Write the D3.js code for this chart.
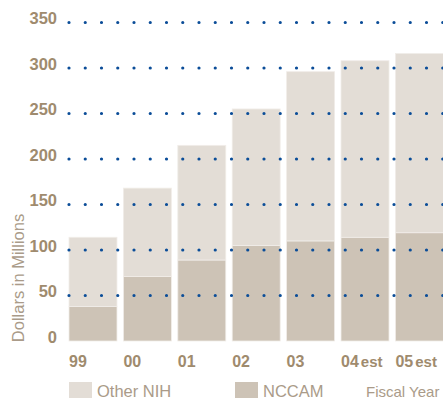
<!DOCTYPE html>
<html><head><meta charset="utf-8">
<script src="https://cdn.jsdelivr.net/npm/d3@7/dist/d3.min.js"></script>
<style>html,body{margin:0;padding:0;background:#fff;overflow:hidden}</style>
</head><body>
<svg id="c" width="443" height="403"></svg>
<script>
const years = ["99", "00", "01", "02", "03", "04", "05"];
const yearSuffix = ["", "", "", "", "", "est", "est"];
const nccam = [38, 71, 89, 105, 110, 114, 119];
const otherNih = [76, 97, 126, 150, 186, 194, 197];
const yTicks = [0, 50, 100, 150, 200, 250, 300, 350];
const gridTicks = [50, 100, 150, 200, 250, 300, 350];

const svg = d3.select("#c");
const x = d3.scaleBand().domain(years).range([69, 443.4]).paddingInner(0.118).paddingOuter(0);
const y = d3.scaleLinear().domain([0, 350]).range([341, 22.5]);

const rows = years.map((yr, i) => ({year: yr, nccam: nccam[i], other: otherNih[i]}));
const stack = d3.stack().keys(["nccam", "other"])(rows);
const colors = {nccam: "#cdc3b6", other: "#e3ddd6"};

svg.append("g").selectAll("g").data(stack).join("g")
  .attr("fill", d => colors[d.key])
  .selectAll("rect").data(d => d).join("rect")
  .attr("x", d => x(d.data.year))
  .attr("width", x.bandwidth())
  .attr("y", d => y(d[1]))
  .attr("height", d => y(d[0]) - y(d[1]))
  .attr("stroke", "#f1ede9").attr("stroke-width", 0.8);

// dotted grid lines on top
svg.append("g").selectAll("line").data(gridTicks).join("line")
  .attr("x1", 69).attr("x2", 445)
  .attr("y1", d => y(d)).attr("y2", d => y(d))
  .attr("stroke", "#0b4d98").attr("stroke-width", 3.2)
  .attr("stroke-linecap", "round").attr("stroke-dasharray", "0,16.25");

// y tick labels
const axisY = d3.axisLeft(y).tickValues(yTicks).tickSize(0).tickPadding(0);
const gy = svg.append("g").attr("transform", "translate(57,0)").call(axisY);
gy.select(".domain").remove();
gy.selectAll("text")
  .attr("font-family", "Liberation Sans, Arial, sans-serif")
  .attr("font-weight", "bold").attr("font-size", 16.5)
  .attr("fill", "#9f8b6e").attr("dy", null).attr("y", 1.2)
  .attr("dominant-baseline", "auto");

// x labels
const xl = svg.append("g").selectAll("text").data(years).join("text")
  .attr("x", d => x(d)).attr("y", 366.7)
  .attr("font-family", "Liberation Sans, Arial, sans-serif")
  .attr("font-weight", "bold").attr("font-size", 16)
  .attr("fill", "#9f8b6e");
xl.append("tspan").text(d => d);
xl.append("tspan").attr("dx", 2).attr("font-size", 15).text((d, i) => yearSuffix[i]);

// y title
svg.append("text")
  .attr("transform", "translate(23.5,278) rotate(-90)")
  .attr("text-anchor", "middle")
  .attr("font-family", "Liberation Sans, Arial, sans-serif")
  .attr("font-size", 16.5).attr("fill", "#aa9b89")
  .text("Dollars in Millions");

// legend
const legend = [
  {label: "Other NIH", key: "other", x: 69},
  {label: "NCCAM", key: "nccam", x: 235}
];
const lg = svg.append("g").selectAll("g").data(legend).join("g");
lg.append("rect").attr("x", d => d.x).attr("y", 382).attr("width", 23).attr("height", 16)
  .attr("fill", d => colors[d.key]);
lg.append("text").attr("x", d => d.x + 28).attr("y", 397.3)
  .attr("font-family", "Liberation Sans, Arial, sans-serif")
  .attr("font-size", 16.5).attr("fill", "#aa9b89")
  .text(d => d.label);
svg.append("text").attr("x", 366).attr("y", 397.3)
  .attr("font-family", "Liberation Sans, Arial, sans-serif")
  .attr("font-size", 15).attr("fill", "#aa9b89")
  .text("Fiscal Year");
</script>
</body></html>
